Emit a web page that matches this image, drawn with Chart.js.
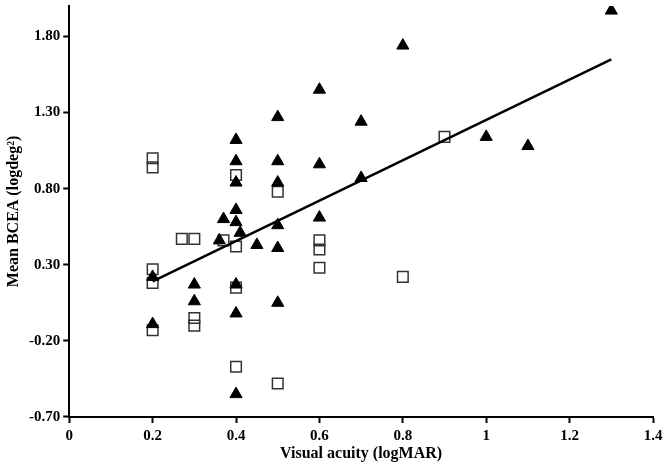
<!DOCTYPE html>
<html>
<head>
<meta charset="utf-8">
<script src="https://cdn.jsdelivr.net/npm/chart.js@4/dist/chart.umd.min.js"></script>
<style>
  html, body { margin: 0; padding: 0; background: #fff; }
  #wrap { width: 664px; height: 469px; }
</style>
</head>
<body>
<div id="wrap"><canvas id="myChart" width="664" height="469"></canvas></div>
<script>
// open squares
const squareX = [0.2, 0.2, 0.2, 0.2, 0.2, 0.27, 0.3, 0.3, 0.3, 0.37, 0.4, 0.4, 0.4, 0.4, 0.5, 0.5, 0.6, 0.6, 0.6, 0.8, 0.9];
const squareY = [1.00, 0.94, 0.27, 0.18, -0.13, 0.47, 0.47, -0.05, -0.10, 0.46, 0.89, 0.42, 0.15, -0.37, 0.78, -0.48, 0.46, 0.40, 0.28, 0.22, 1.14];

// filled triangles
const triX = [0.2, 0.2, 0.3, 0.3, 0.36, 0.37, 0.4, 0.4, 0.4, 0.4, 0.4, 0.4, 0.4, 0.4, 0.41, 0.45,
              0.5, 0.5, 0.5, 0.5, 0.5, 0.5, 0.6, 0.6, 0.6, 0.7, 0.7, 0.8, 1.0, 1.1, 1.3];
const triY = [0.22, -0.09, 0.17, 0.06, 0.46, 0.60, 1.12, 0.98, 0.84, 0.66, 0.58, 0.17, -0.02, -0.55, 0.51, 0.43,
              1.27, 0.98, 0.84, 0.56, 0.41, 0.05, 1.45, 0.96, 0.61, 1.24, 0.87, 1.74, 1.14, 1.08, 1.97];

// trend line end points
const fitX = [0.2, 1.3];
const fitY = [0.19, 1.65];

const yTicks = [-0.7, -0.2, 0.3, 0.8, 1.3, 1.8];

const toPts = (xs, ys) => xs.map((x, i) => ({ x: x, y: ys[i] }));

const ctx = document.getElementById('myChart').getContext('2d');
new Chart(ctx, {
    type: 'scatter',
    data: {
        datasets: [
            {
                type: 'line',
                data: toPts(fitX, fitY),
                borderColor: '#000',
                borderWidth: 2.5,
                pointRadius: 0,
                fill: false,
            },
            {
                data: toPts(triX, triY),
                pointStyle: 'triangle',
                pointRadius: 7,
                backgroundColor: '#000',
                borderColor: '#000',
                borderWidth: 1,
            },
            {
                data: toPts(squareX, squareY),
                pointStyle: 'rect',
                pointRadius: 7.5,
                backgroundColor: 'rgba(255,255,255,0)',
                borderColor: '#333',
                borderWidth: 1.5,
            },
        ],
    },
    options: {
        responsive: false,
        animation: false,
        layout: { autoPadding: false, padding: { left: 2, right: 0, top: 0, bottom: 10 } },
        plugins: { legend: { display: false }, tooltip: { enabled: false } },
        scales: {
            x: {
                type: 'linear',
                min: 0,
                max: 1.4,
                afterFit: (scale) => { scale.paddingRight = 11; },
                ticks: {
                    stepSize: 0.2,
                    padding: 8,
                    color: '#000',
                    font: { family: 'Liberation Serif', size: 15, weight: 'bold', lineHeight: 0.67 },
                    callback: (v) => String(+v.toFixed(1)),
                },
                grid: { drawOnChartArea: false, tickLength: 6, tickColor: '#000', tickWidth: 2 },
                border: { color: '#000', width: 2 },
                title: {
                    display: true, text: 'Visual acuity (logMAR)', color: '#000',
                    font: { family: 'Liberation Serif', size: 16, weight: 'bold', lineHeight: 0.625 },
                    padding: { top: 0, bottom: 0 },
                },
            },
            y: {
                min: -0.7,
                max: 2.0,
                afterBuildTicks: (axis) => { axis.ticks = yTicks.map((v) => ({ value: v })); },
                ticks: {
                    color: '#000',
                    font: { family: 'Liberation Serif', size: 15, weight: 'bold', lineHeight: 0.4 },
                    callback: (v) => v.toFixed(2),
                },
                grid: { drawOnChartArea: false, tickLength: 6, tickColor: '#000', tickWidth: 2 },
                border: { color: '#000', width: 2 },
                title: {
                    display: true, text: 'Mean BCEA (logdeg²)', color: '#000',
                    font: { family: 'Liberation Serif', size: 16, weight: 'bold', lineHeight: 1 },
                    padding: { top: 4, bottom: 4 },
                },
            },
        },
    },
});
</script>
</body>
</html>
